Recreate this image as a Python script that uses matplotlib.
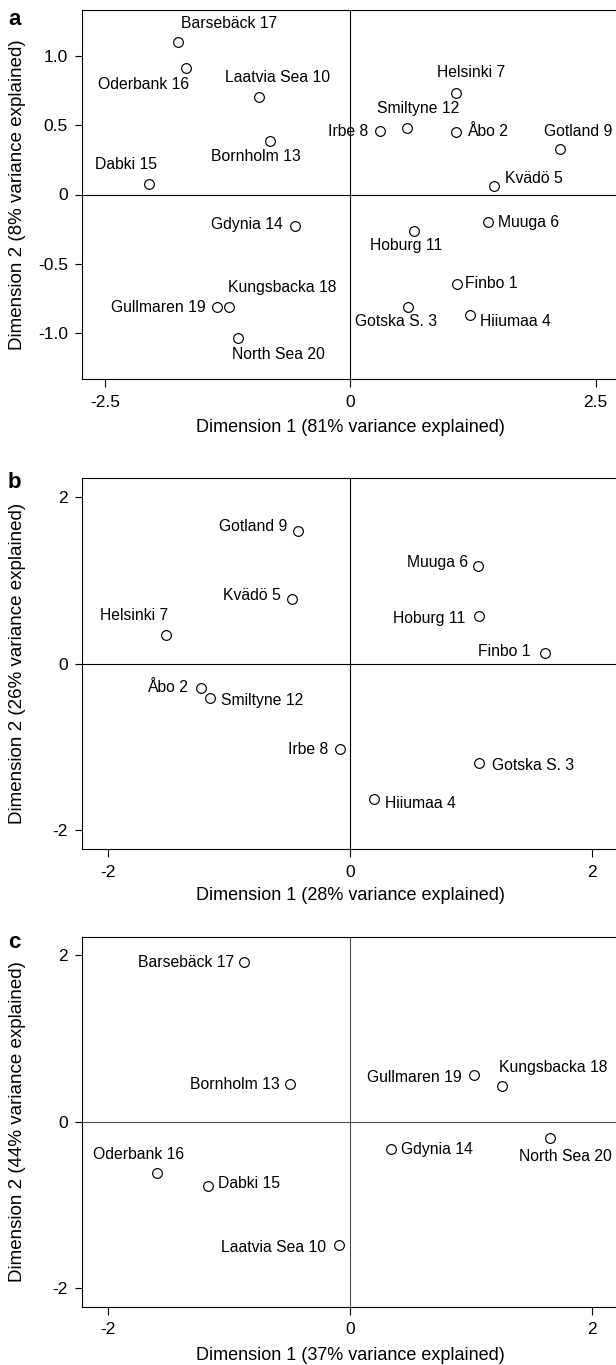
import matplotlib.pyplot as plt

plt.rcParams['font.family'] = ['Liberation Sans', 'DejaVu Sans']
plt.rcParams['axes.unicode_minus'] = False

# panel a - all 20 sites
sites_a = ["Finbo 1", "Åbo 2", "Gotska S. 3", "Hiiumaa 4", "Kvädö 5", "Muuga 6",
           "Helsinki 7", "Irbe 8", "Gotland 9", "Laatvia Sea 10", "Hoburg 11",
           "Smiltyne 12", "Bornholm 13", "Gdynia 14", "Dabki 15", "Oderbank 16",
           "Barsebäck 17", "Kungsbacka 18", "Gullmaren 19", "North Sea 20"]
dim1_a = [1.085, 1.077, 0.590, 1.220, 1.459, 1.404, 1.077, 0.299, 2.133, -0.925,
          0.650, 0.574, -0.817, -0.566, -2.049, -1.671, -1.754, -1.236, -1.356, -1.148]
dim2_a = [-0.646, 0.453, -0.810, -0.867, 0.058, -0.200, 0.733, 0.458, 0.328, 0.706,
          -0.260, 0.482, 0.386, -0.224, 0.075, 0.913, 1.101, -0.810, -0.814, -1.039]

# panel b - Baltic sites
sites_b = ["Finbo 1", "Åbo 2", "Gotska S. 3", "Hiiumaa 4", "Kvädö 5", "Muuga 6",
           "Helsinki 7", "Irbe 8", "Gotland 9", "Hoburg 11", "Smiltyne 12"]
dim1_b = [1.607, -1.236, 1.060, 0.198, -0.485, 1.057, -1.525, -0.085, -0.429, 1.060, -1.158]
dim2_b = [0.124, -0.292, -1.197, -1.630, 0.773, 1.173, 0.348, -1.029, 1.590, 0.565, -0.420]

# panel c - southern sites
sites_c = ["Laatvia Sea 10", "Bornholm 13", "Gdynia 14", "Dabki 15", "Oderbank 16",
           "Barsebäck 17", "Kungsbacka 18", "Gullmaren 19", "North Sea 20"]
dim1_c = [-0.094, -0.498, 0.335, -1.178, -1.598, -0.875, 1.256, 1.022, 1.650]
dim2_c = [-1.476, 0.448, -0.328, -0.776, -0.620, 1.912, 0.424, 0.556, -0.196]

var_x = [81, 28, 37]
var_y = [8, 26, 44]

# label placement (ha, dx px, dy px)
place_a = [("left", 8, 0), ("left", 11, 0), ("center", -12, -15), ("left", 10, -7),
           ("left", 11, 8), ("left", 10, 0), ("center", 15, 20), ("right", -12, 0),
           ("center", 18, 18), ("center", 18, 19), ("center", -8, -15), ("center", 11, 19),
           ("center", -14, -15), ("right", -12, 1), ("center", -23, 20), ("center", -43, -16),
           ("center", 51, 18), ("center", 53, 19), ("right", -11, 0), ("center", 41, -16)]
place_b = [("right", -14, 2), ("right", -13, 0), ("left", 13, -2), ("left", 11, -4),
           ("right", -11, 4), ("right", -10, 3), ("center", -32, 19), ("right", -12, 0),
           ("right", -11, 5), ("right", -13, -2), ("left", 11, -2)]
place_c = [("right", -13, -3), ("right", -10, 0), ("left", 10, 0), ("left", 10, 3),
           ("center", -18, 19), ("right", -10, 0), ("center", 51, 19), ("right", -12, -2),
           ("center", 15, -18)]

W, H = 616, 1365
fig = plt.figure(figsize=(W / 100, H / 100), dpi=100)


def panel(top, bottom, letter, names, xs, ys, place, xlim, ylim, xticks, yticks,
          xtl, ytl, vx, vy, xlab_y, zero_col):
    ax = fig.add_axes([82.3 / W, 1 - bottom / H, 536 / W, (bottom - top) / H])
    ax.axhline(0, color=zero_col, lw=0.8, zorder=1)
    ax.axvline(0, color=zero_col, lw=0.8, zorder=1)
    ax.plot(xs, ys, 'o', ms=7, mfc='none', mec='black', mew=0.85, zorder=3)
    for name, x, y, (ha, dx, dy) in zip(names, xs, ys, place):
        ax.annotate(name, (x, y), xytext=(dx, dy), textcoords='offset pixels',
                    ha=ha, va='center', fontsize=11.3)
    ax.set_xlim(-xlim, xlim)
    ax.set_ylim(-ylim, ylim)
    ax.set_xticks(xticks)
    ax.set_xticklabels(xtl)
    ax.set_yticks(yticks)
    ax.set_yticklabels(ytl)
    ax.tick_params(axis='x', length=5.4, width=0.8, pad=5.8, labelsize=12.5)
    ax.tick_params(axis='y', length=5.4, width=0.8, pad=4.9, labelsize=12.5)
    for s in ax.spines.values():
        s.set_linewidth(0.8)
    fig.text(350 / W, 1 - xlab_y / H, f"Dimension 1 ({vx}% variance explained)",
             ha='center', va='center', fontsize=13)
    fig.text(18 / W, 1 - (top + bottom) / 2 / H, f"Dimension 2 ({vy}% variance explained)",
             ha='center', va='center', rotation=90, fontsize=13.5)
    fig.text(8 / W, 1 - letter[1] / H, letter[0], ha='left', va='baseline',
             fontsize=16, fontweight='bold')
    return ax


panel(10, 379, ("a", 25), sites_a, dim1_a, dim2_a, place_a, 2.73, 1.332,
      [-2.5, 0, 2.5], [-1.0, -0.5, 0, 0.5, 1.0], ["-2.5", "0", "2.5"],
      ["-1.0", "-0.5", "0", "0.5", "1.0"], var_x[0], var_y[0], 427, 'black')
panel(478, 849, ("b", 488), sites_b, dim1_b, dim2_b, place_b, 2.215, 2.228,
      [-2, 0, 2], [-2, 0, 2], ["-2", "0", "2"], ["-2", "0", "2"],
      var_x[1], var_y[1], 896, 'black')
panel(936.7, 1306.7, ("c", 948), sites_c, dim1_c, dim2_c, place_c, 2.215, 2.22,
      [-2, 0, 2], [-2, 0, 2], ["-2", "0", "2"], ["-2", "0", "2"],
      var_x[2], var_y[2], 1355, '0.3')

fig.savefig("out.png", dpi=100)
